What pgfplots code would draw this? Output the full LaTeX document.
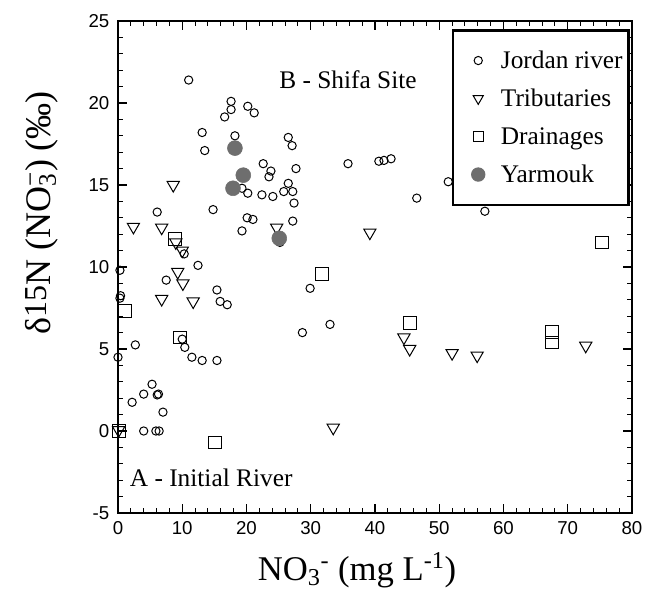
\documentclass[border=0pt]{standalone}
\usepackage{fontspec}
\setmainfont{Liberation Serif}
\setsansfont{Liberation Sans}
\usepackage{pgfplots}
\pgfplotsset{compat=1.18}
\definecolor{yarm}{HTML}{6E6E6E}

\begin{document}
\begin{tikzpicture}
\useasboundingbox (-88.5pt,-57.75pt) rectangle (396.75pt,384.75pt);
\begin{axis}[
  at={(0,0)}, anchor=south west,
  scale only axis, width=385.5pt, height=369pt,
  xmin=0, xmax=80, ymin=-5, ymax=25, clip=false,
  xtick distance=10, ytick distance=5,
  minor x tick num=4, minor y tick num=4,
  tick align=inside, xtick pos=both, ytick pos=both,
  xticklabel pos=lower, yticklabel pos=left,
  major tick length=6.5pt, minor tick length=3.5pt,
  axis line style={line width=0.8pt},
  tick style={line width=0.8pt, black},
  ticklabel style={font=\sffamily\fontsize{14}{14}\selectfont},
  xticklabel style={yshift=-3pt},
  yticklabel style={xshift=-3pt},
  /pgf/number format/assume math mode=true,
  xlabel={NO\textsubscript{3}\textsuperscript{-} (mg L\textsuperscript{-1})},
  ylabel={δ\raisebox{0.25ex}{\fontsize{24}{24}\selectfont 15}N (NO\rlap{\textsubscript{3}}\textsuperscript{−}) (‰)},
  xlabel style={at={(axis description cs:0.465,-0.116)}, anchor=center,
    font=\fontsize{26}{26}\selectfont},
  ylabel style={at={(axis description cs:-0.148,0.61)}, anchor=center,
    font=\fontsize{27}{27}\selectfont},
  legend style={at={(0.996,0.984)}, anchor=north east, draw=black,
    line width=2pt, font=\fontsize{19}{19}\selectfont,
    row sep=0pt, column sep=0pt, inner xsep=4.5pt, inner ysep=8.5pt,
    nodes={inner sep=0pt, text height=20.25pt, text depth=8.25pt}},
  legend image post style={line width=0.75pt},
  legend cell align=left,
]

% Jordan river
\addplot[only marks, mark=o, mark size=3.1pt, black,
  mark options={line width=0.75pt},
  legend image code/.code={\path[draw=none] (0pt,0pt) -- (31.5pt,0pt);
    \draw[black, mark=o, mark size=3.1pt,
    mark options={line width=0.75pt}] plot coordinates {(14.5pt,0pt)};}] table {
x y
11.0 21.4
17.6 20.1
17.6 19.6
16.6 19.15
20.2 19.8
21.2 19.4
13.1 18.2
13.5 17.1
18.2 18.0
26.5 17.9
27.1 17.4
22.6 16.3
23.8 15.85
23.5 15.5
27.7 16.0
26.5 15.1
19.3 14.8
20.2 14.5
22.4 14.4
24.1 14.3
25.8 14.6
27.2 14.6
27.4 13.9
6.1 13.35
14.8 13.5
19.3 12.2
20.1 13.0
21.0 12.9
27.2 12.8
25.2 11.5
10.3 10.8
12.45 10.1
0.3 9.8
7.5 9.2
15.4 8.6
29.9 8.7
0.3 8.1
0.4 8.25
15.9 7.9
17.0 7.7
28.7 6.0
33.0 6.5
10.0 5.6
2.7 5.25
10.4 5.1
0.0 4.5
11.5 4.5
13.1 4.3
15.4 4.3
5.3 2.85
4.0 2.25
6.1 2.2
6.3 2.25
2.2 1.75
7.0 1.15
4.0 0.0
5.9 0.0
6.4 0.0
35.8 16.3
40.6 16.45
41.4 16.5
42.5 16.6
51.4 15.2
46.5 14.2
57.1 13.4
};
\addlegendentry{Jordan river}

% Tributaries
\addplot[only marks, mark=triangle, mark size=5.3pt, black,
  mark options={rotate=180, line width=0.75pt},
  legend image code/.code={\path[draw=none] (0pt,0pt) -- (31.5pt,0pt);
    \draw[black, mark=triangle, mark size=4.4pt,
    mark options={rotate=180, line width=0.75pt}] plot coordinates {(14.5pt,0pt)};}] table {
x y
8.6 15.0
2.4 12.45
6.8 12.4
9.0 11.5
10.0 11.0
9.3 9.7
10.1 9.0
6.8 8.05
11.7 7.9
24.7 12.4
39.2 12.1
44.5 5.7
45.4 5.0
52.0 4.75
55.9 4.6
72.8 5.2
33.5 0.2
0.1 0.05
};
\addlegendentry{Tributaries}

% Drainages
\addplot[only marks, mark=square, mark size=4.8pt, black,
  mark options={line width=0.75pt},
  legend image code/.code={\path[draw=none] (0pt,0pt) -- (31.5pt,0pt);
    \draw[black, mark=square, mark size=3.6pt,
    mark options={line width=0.75pt}] plot coordinates {(14.5pt,0pt)};}] table {
x y
8.9 11.7
1.1 7.3
9.65 5.7
0.1 0.0
15.1 -0.7
31.8 9.55
45.4 6.6
67.5 6.05
67.5 5.4
75.3 11.5
};
\addlegendentry{Drainages}

% Yarmouk
\addplot[only marks, mark=*, mark size=5.6pt, yarm,
  mark options={fill=yarm, draw=yarm},
  legend image code/.code={\path[draw=none] (0pt,0pt) -- (31.5pt,0pt);
    \draw[yarm, mark=*, mark size=5pt,
    mark options={fill=yarm, draw=yarm}] plot coordinates {(14.5pt,0pt)};}] table {
x y
18.2 17.25
19.5 15.6
17.9 14.8
25.1 11.75
};
\addlegendentry{Yarmouk}

\node[font=\fontsize{19}{19}\selectfont] at (axis cs:35.8,21.4) {B - Shifa Site};
\node[font=\fontsize{19}{19}\selectfont] at (axis cs:14.5,-2.87) {A - Initial River};
\end{axis}
\end{tikzpicture}
\end{document}
